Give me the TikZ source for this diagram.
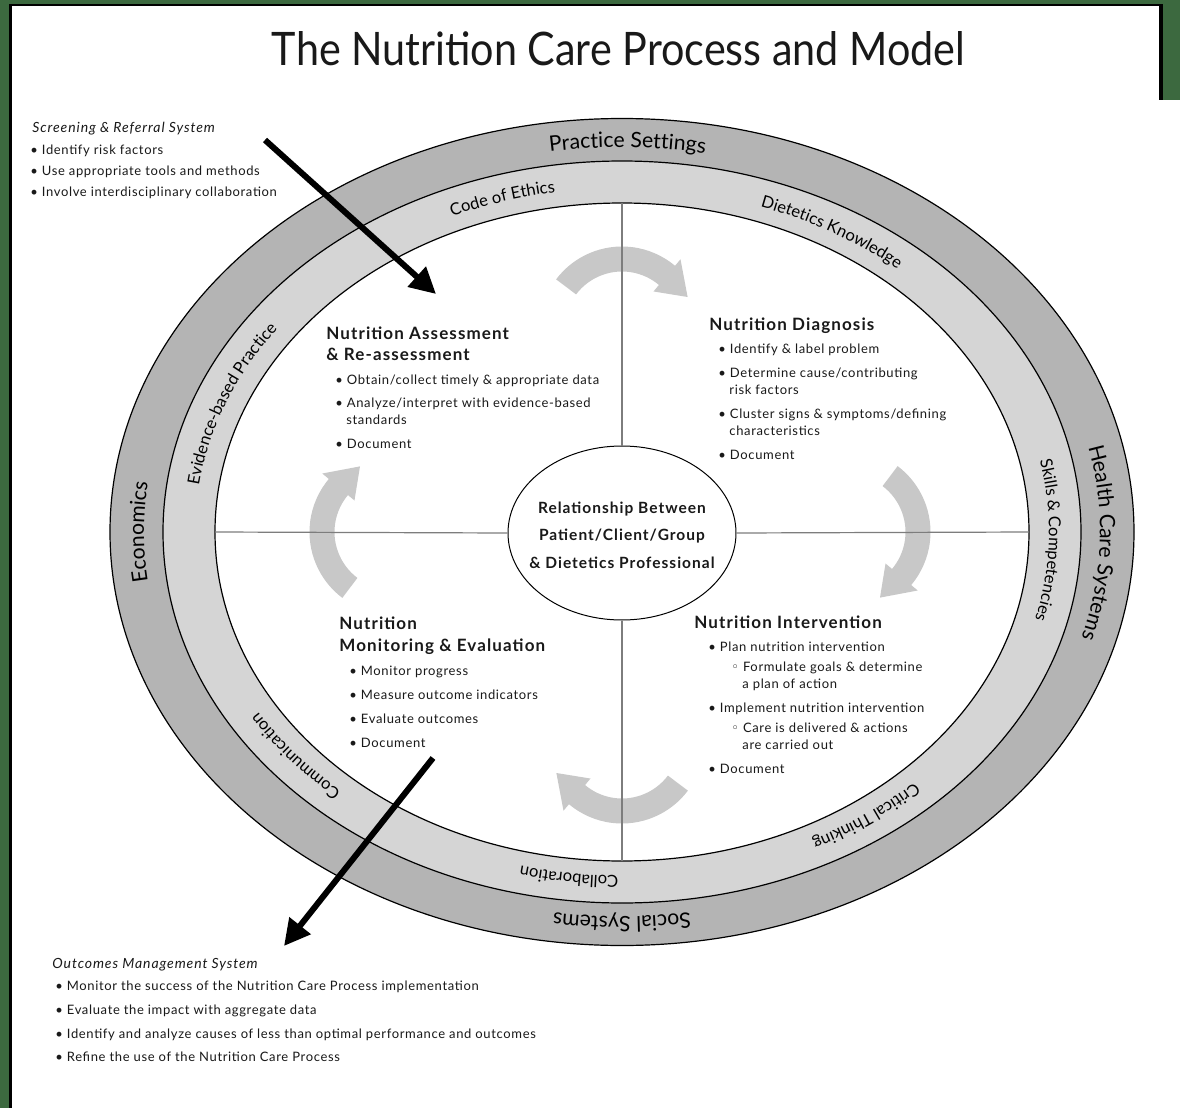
\documentclass[tikz,border=0pt]{standalone}
\usepackage{fontspec}
\setmainfont{Lato}
\newfontfamily\trackA{Lato}[LetterSpace=5]
\newfontfamily\trackB{Lato}[LetterSpace=6.5]
\newfontfamily\symfam{DejaVu Sans}
\usetikzlibrary{arrows.meta,decorations.text,shapes.geometric}
\definecolor{ringdark}{RGB}{180,180,180}
\definecolor{ringlight}{RGB}{213,213,213}
\definecolor{arrowgrey}{RGB}{200,200,200}
\definecolor{linegrey}{RGB}{125,125,125}
\definecolor{framegreen}{RGB}{60,105,63}
\definecolor{textdark}{RGB}{25,25,25}
\newcommand\ringA{\fontsize{10.6}{11}\selectfont}
\newcommand\ringB{\fontsize{8.3}{9}\selectfont}
\newcommand\hollow{{\symfam\char"25E6}}
\newcommand\cyclearrow[3]{%
  \fill[arrowgrey, shift={(#1,#2)}] (#3:82.5) arc[start angle=#3, delta angle=93, radius=82.5]
    -- (#3+93:91) -- (#3+117:73) -- (#3+93:49) -- (#3+93:57.5)
    arc[start angle=#3+93, delta angle=-93, radius=57.5] -- cycle;}
\newcommand\ringlabel[6]{%
  \path[shift={(622,532)}, decorate, decoration={text along path, text align=center, text={|#5|#6}}]
    (#3-#4:#1 and #2) arc[start angle=#3-#4, end angle=#3+#4, x radius=#1, y radius=#2];}
\begin{document}
\begin{tikzpicture}[x=0.5pt,y=-0.5pt,
  txt/.style={anchor=base west, inner sep=0pt, text=textdark, font=\trackA\fontsize{6.5}{7}\selectfont},
  hd/.style={anchor=base west, inner sep=0pt, text=textdark, font=\trackB\fontsize{8.5}{9}\selectfont\bfseries},
  sideit/.style={anchor=base west, inner sep=0pt, text=textdark, font=\trackB\fontsize{7}{8}\selectfont\itshape},
  ring/.style={draw=black, line width=0.6pt},
  crossline/.style={draw=linegrey, line width=0.6pt},
  bigarrow/.style={draw=black, line width=3pt, -{Triangle[length=13pt, width=13pt]}}]
\useasboundingbox (0,0) rectangle (1180,1108);
\fill[white] (0,0) rectangle (1180,1108);
% frame
\fill[framegreen] (0,0) rectangle (9,1108);
\fill[framegreen] (0,0) rectangle (1180,4);
\fill[framegreen] (1163,0) rectangle (1180,100);
\fill[black] (9,4) rectangle (12,1108);
\fill[black] (9,4) rectangle (1163,6);
\fill[black] (1159,4) rectangle (1163,100);
% title
\node[anchor=base, inner sep=0pt, text=textdark] (title) at (618.5,65)
  {\resizebox{346.5pt}{17pt}{The Nutrition Care Process and Model}};
% rings
\path[ring, fill=ringdark] (622,532) ellipse [x radius=512, y radius=413.5];
\path[ring, fill=ringlight] (622,532) ellipse [x radius=459, y radius=371];
\path[ring, fill=white] (622,532) ellipse [x radius=407, y radius=329];
% ring labels
\ringlabel{478}{384.5}{-89.3}{40}{\ringA}{Practice Settings}
\ringlabel{478}{384.5}{1.5}{40}{\ringA}{Health Care Systems}
\ringlabel{478}{384.5}{90}{40}{\ringA}{Social Systems}
\ringlabel{478}{384.5}{180}{40}{\ringA}{Economics}
\ringlabel{427}{344}{-106.9}{30}{\ringB}{Code of Ethics}
\ringlabel{427}{344}{-59.4}{30}{\ringB}{Dietetics Knowledge}
\ringlabel{427}{344}{1.3}{30}{\ringB}{Skills {\&} Competencies}
\ringlabel{427}{344}{53.9}{30}{\ringB}{Critical Thinking}
\ringlabel{427}{344}{97.4}{30}{\ringB}{Collaboration}
\ringlabel{427}{344}{141.2}{30}{\ringB}{Communication}
\ringlabel{427}{344}{201.1}{30}{\ringB}{Evidence-based Practice}
% cycle arrows
\cyclearrow{622}{329}{-143}
\cyclearrow{848}{532}{-53}
\cyclearrow{622}{741}{37}
\cyclearrow{392}{532}{127}
% centre ellipse and cross lines
\node[draw=black, line width=0.5pt, ellipse, minimum width=114pt, minimum height=87pt, inner sep=0pt, fill=white] (rel) at (622,533) {};
\coordinate (inTop) at (622,203);
\coordinate (inBottom) at (622,861);
\coordinate (inLeft) at (215,532);
\coordinate (inRight) at (1029,532);
\draw[crossline] (rel.north) -- (inTop);
\draw[crossline] (rel.south) -- (inBottom);
\draw[crossline] (rel.west) -- (inLeft);
\draw[crossline] (rel.east) -- (inRight);
\node[align=center, inner sep=0pt, text=textdark, font=\trackB\fontsize{7.75}{13.75}\selectfont\bfseries] (reltext) at (622,535)
  {Relationship Between\\Patient/Client/Group\\\& Dietetics Professional};
% Assessment
\node[hd] (a1) at (326,339) {Nutrition Assessment};
\node[hd] (a2) at (326,360) {\& Re-assessment};
\node[txt] (a3) at (335,384) {• Obtain/collect timely \& appropriate data};
\node[txt] (a4) at (335,407) {• Analyze/interpret with evidence-based};
\node[txt] (a5) at (346,424) {standards};
\node[txt] (a6) at (335,448) {• Document};
% Diagnosis
\node[hd] (d1) at (709,330) {Nutrition Diagnosis};
\node[txt] (d2) at (718,353) {• Identify \& label problem};
\node[txt] (d3) at (718,377) {• Determine cause/contributing};
\node[txt] (d4) at (729,394) {risk factors};
\node[txt] (d5) at (718,418) {• Cluster signs \& symptoms/defining};
\node[txt] (d6) at (729,435) {characteristics};
\node[txt] (d7) at (718,459) {• Document};
% Intervention
\node[hd] (i1) at (694,628) {Nutrition Intervention};
\node[txt] (i2) at (708,651) {• Plan nutrition intervention};
\node[txt] (i3) at (731,671) {\hollow\ Formulate goals \& determine};
\node[txt] (i4) at (742,688) {a plan of action};
\node[txt] (i5) at (708,712) {• Implement nutrition intervention};
\node[txt] (i6) at (731,732) {\hollow\ Care is delivered \& actions};
\node[txt] (i7) at (742,749) {are carried out};
\node[txt] (i8) at (708,773) {• Document};
% Monitoring
\node[hd] (m1) at (339,629) {Nutrition};
\node[hd] (m2) at (339,651) {Monitoring \& Evaluation};
\node[txt] (m3) at (349,675) {• Monitor progress};
\node[txt] (m4) at (349,699) {• Measure outcome indicators};
\node[txt] (m5) at (349,723) {• Evaluate outcomes};
\node[txt] (m6) at (349,747) {• Document};
% Screening
\node[sideit] (s1) at (32,133) {Screening \& Referral System};
\node[txt] (s2) at (30,155) {• Identify risk factors};
\node[txt] (s3) at (30,175) {• Use appropriate tools and methods};
\node[txt] (s4) at (30,196) {• Involve interdisciplinary collaboration};
% Outcomes
\node[sideit] (o1) at (52,968) {Outcomes Management System};
\node[txt] (o2) at (55,990) {• Monitor the success of the Nutrition Care Process implementation};
\node[txt] (o3) at (55,1014) {• Evaluate the impact with aggregate data};
\node[txt] (o4) at (55,1038) {• Identify and analyze causes of less than optimal performance and outcomes};
\node[txt] (o5) at (55,1061) {• Refine the use of the Nutrition Care Process};
% big arrows
\coordinate (scrStart) at (265,140);
\coordinate (scrEnd) at (436,294);
\coordinate (outStart) at (433,758);
\coordinate (outEnd) at (284,946);
\draw[bigarrow] (scrStart) -- (scrEnd);
\draw[bigarrow] (outStart) -- (outEnd);
\end{tikzpicture}
\end{document}
